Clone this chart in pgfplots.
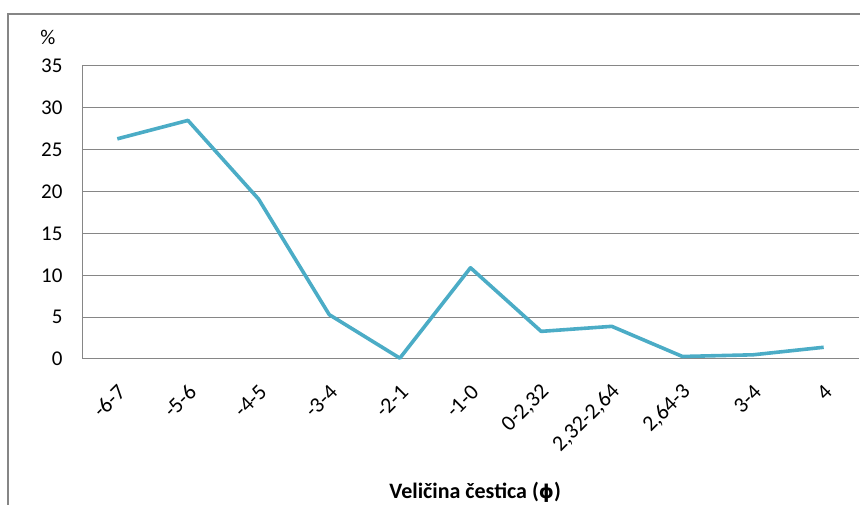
\documentclass[border=0pt]{standalone}
\usepackage{pgfplots}
\pgfplotsset{compat=1.18}
\usepackage{fontspec}
\setmainfont{Carlito}
\newfontfamily\dvfont{DejaVu Sans}
\definecolor{lineblue}{HTML}{4BACC6}
\definecolor{gridgray}{HTML}{868686}
\begin{document}
\begin{tikzpicture}[x=1pt,y=1pt]
\useasboundingbox (0,0) rectangle (860,505);
\draw[gridgray, line width=2pt] (8,0) -- (8,491) -- (860,491);
\begin{axis}[
  at={(82pt,146pt)}, anchor=south west,
  scale only axis, width=777pt, height=293pt,
  xmin=-0.5, xmax=10.5, ymin=0, ymax=35,
  xtick={0,...,10},
  xticklabels={-6-7,-5-6,-4-5,-3-4,-2-1,-1-0,{0-2,32},{2,32-2,64},{2,64-3},3-4,4},
  ytick={0,5,...,35},
  axis lines*=left,
  axis line style={gridgray, line width=1pt, -},
  major tick length=0pt,
  ymajorgrids, grid style={gridgray, line width=1pt},
  yticklabel style={font=\fontsize{21}{25}\selectfont, xshift=-16pt},
  xticklabel style={font=\fontsize{22}{26}\selectfont, xshift=7pt, yshift=-27pt, rotate=45, anchor=east},
  /pgf/number format/assume math mode=true,
  clip=false,
  xlabel={\textbf{Veličina čestica ({\dvfont\fontsize{19}{24}\selectfont ϕ})}},
  xlabel style={font=\fontsize{22}{26}\selectfont, at={(axis description cs:0.506,0)}, anchor=center, yshift=-133pt},
]
\addplot[lineblue, line width=3.6pt, line join=round] coordinates {
(0,26.3) (1,28.5) (2,19.1) (3,5.3) (4,0.1) (5,10.9) (6,3.3) (7,3.9) (8,0.3) (9,0.5) (10,1.4)
};
\end{axis}
\node at (48,468) {\fontsize{21}{25}\selectfont \%};
\end{tikzpicture}
\end{document}
